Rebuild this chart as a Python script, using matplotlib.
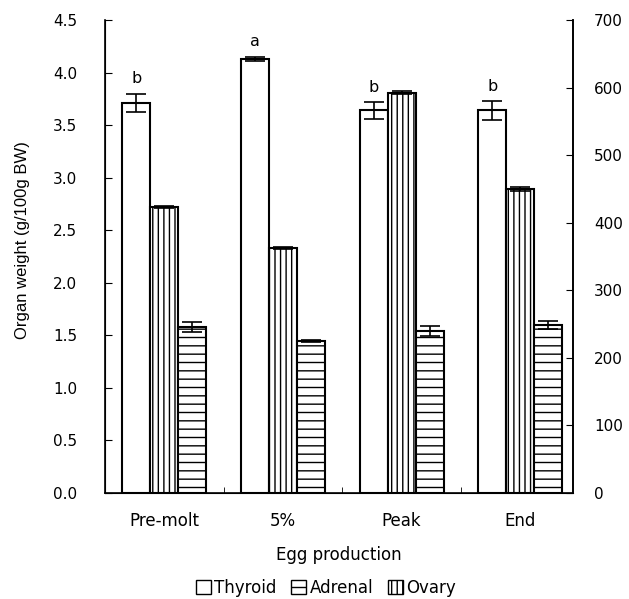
import matplotlib
matplotlib.use("Agg")
import matplotlib.pyplot as plt
import numpy as np
from matplotlib.patches import Patch
from matplotlib import font_manager

categories = ["Pre-molt", "5%", "Peak", "End"]
thyroid = [3.71, 4.13, 3.64, 3.64]
thyroid_err = [0.09, 0.02, 0.08, 0.09]
adrenal = [2.72, 2.33, 3.81, 2.89]
adrenal_err = [0.01, 0.01, 0.01, 0.02]
ovary = [1.58, 1.45, 1.54, 1.60]
ovary_err = [0.05, 0.01, 0.05, 0.04]
letters = ["b", "a", "b", "b"]
left_ticks = [0.0, 0.5, 1.0, 1.5, 2.0, 2.5, 3.0, 3.5, 4.0, 4.5]
right_ticks = [0, 100, 200, 300, 400, 500, 600, 700]

plt.rcParams['font.family'] = ['DejaVu Sans']
plt.rcParams['hatch.linewidth'] = 1.0

names = {f.name for f in font_manager.fontManager.ttflist}
if 'Liberation Sans Narrow' in names:
    yl_family, yl_size = ['Liberation Sans Narrow', 'DejaVu Sans'], 13.5
else:
    yl_family, yl_size = ['Liberation Sans', 'DejaVu Sans'], 12

fig = plt.figure(figsize=(6.29, 5.99), dpi=100)
ax = fig.add_axes([105/629, 1 - 493/599, (573-105)/629, (493-20)/599])

x = np.arange(len(categories))
w = 0.236
ek = dict(ecolor='black', elinewidth=1.2, capsize=7, capthick=1.2)
ax.bar(x - w, thyroid, w, yerr=thyroid_err, color='white', edgecolor='black', linewidth=1.5, error_kw=ek)
ax.bar(x, adrenal, w, yerr=adrenal_err, color='white', edgecolor='black', linewidth=1.5, hatch='|||', error_kw=ek)
ax.bar(x + w, ovary, w, yerr=ovary_err, color='white', edgecolor='black', linewidth=1.5, hatch='--', error_kw=ek)

for xi, v, e, t in zip(x, thyroid, thyroid_err, letters):
    ax.text(xi - w, v + e + 0.07, t, ha='center', va='bottom', fontsize=11.5)

ax.set_xlim(-0.5, 3.445)
ax.set_ylim(0, 4.5)
ax.set_yticks(left_ticks)
ax.set_yticklabels([f"{t:.1f}" for t in left_ticks])
ax.set_xticks(x)
ax.set_xticklabels(categories)
ax.set_xticks(x[:-1] + 0.5, minor=True)
ax.tick_params(axis='x', which='major', length=0, pad=14, labelsize=12)
ax.tick_params(axis='x', which='minor', direction='in', length=4)
ax.tick_params(axis='y', direction='in', length=5, pad=20, labelsize=11)
ax.spines['top'].set_visible(False)
for s in ['left', 'bottom', 'right']:
    ax.spines[s].set_linewidth(1.2)
ax.set_xlabel("Egg production", fontsize=12, labelpad=11)
ax.set_ylabel("Organ weight (g/100g BW)", fontsize=yl_size, family=yl_family)
ax.yaxis.set_label_coords(-75/468, (493-240)/473)

ax2 = ax.twinx()
ax2.set_ylim(0, 700)
ax2.set_yticks(right_ticks)
ax2.tick_params(axis='y', direction='in', length=5, pad=15, labelsize=11)
ax2.spines['top'].set_visible(False)
ax2.spines['right'].set_linewidth(1.2)

handles = [Patch(facecolor='white', edgecolor='black'),
           Patch(facecolor='white', edgecolor='black', hatch='--'),
           Patch(facecolor='white', edgecolor='black', hatch='|||')]
fig.legend(handles, ["Thyroid", "Adrenal", "Ovary"], loc='center', bbox_to_anchor=(326/629, 1 - 588/599),
           ncol=3, frameon=False, fontsize=12, handlelength=0.9, handleheight=0.9,
           handletextpad=0.2, columnspacing=0.9)

fig.savefig("out.png", dpi=100)
